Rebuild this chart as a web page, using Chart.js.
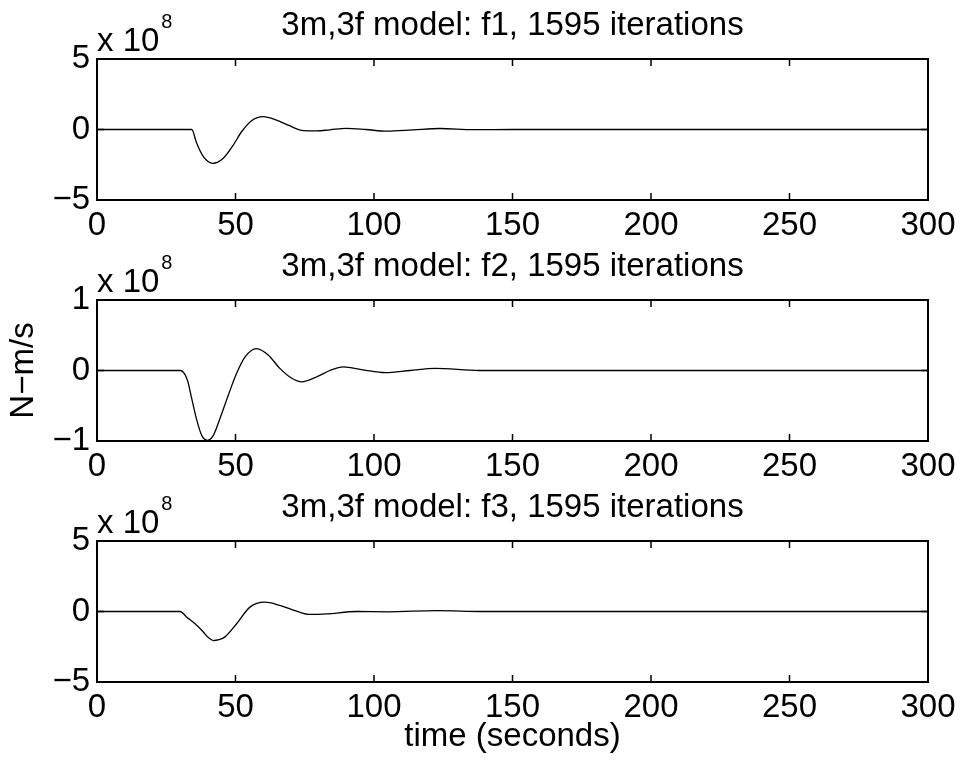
<!DOCTYPE html>
<html><head><meta charset="utf-8">
<script src="https://cdn.jsdelivr.net/npm/chart.js@4/dist/chart.umd.min.js"></script>
<style>
html,body{margin:0;padding:0;background:#fff;overflow:hidden;width:963px;height:763px;}
canvas{position:absolute;left:0;display:block;}
</style></head><body>
<canvas id="c1" width="1025" height="241" style="top:0px"></canvas>
<canvas id="c2" width="1025" height="241" style="top:241px"></canvas>
<canvas id="c3" width="1025" height="281" style="top:482px"></canvas>
<script>
// ---- data (values in units of 1e8 N-m/s) ----
const xTicks = [0, 50, 100, 150, 200, 250, 300];
const titles = ["3m,3f model: f1, 1595 iterations", "3m,3f model: f2, 1595 iterations", "3m,3f model: f3, 1595 iterations"];
const yLabel = "N\u2212m/s";
const xLabel = "time (seconds)";
const expBase = "x 10";
const expPow = "8";

const t1 = [0, 34.2, 36.0, 38.4, 41.8, 45.6, 49.2, 52.2, 55.8, 60.0, 64.8, 69.7, 74.5, 79.3, 84.1, 90.0, 97.0, 104.6, 114.0, 123.8, 135.8, 150.0, 300.0];
const f1 = [0, 0, -0.98, -1.93, -2.40, -2.04, -1.10, -0.16, 0.62, 0.91, 0.67, 0.25, -0.08, -0.10, -0.02, 0.08, 0.0, -0.12, -0.03, 0.07, -0.01, 0, 0];

const t2 = [0, 30.0, 32.6, 34.2, 36.0, 37.8, 39.9, 42.0, 44.4, 47.4, 50.4, 53.4, 57.6, 61.8, 66.0, 70.3, 73.9, 79.3, 84.1, 88.9, 96.0, 104.0, 113.0, 122.0, 138.0, 150.0, 300.0];
const f2 = [0, 0, -0.13, -0.40, -0.70, -0.92, -0.99, -0.92, -0.68, -0.35, -0.04, 0.19, 0.31, 0.22, 0.03, -0.11, -0.16, -0.09, 0.0, 0.05, 0.01, -0.03, 0.0, 0.03, 0.0, 0, 0];

const t3 = [0, 30.0, 32.4, 35.4, 38.4, 40.2, 42.0, 44.0, 46.2, 50.4, 55.2, 60.6, 66.0, 72.1, 76.9, 82.9, 93.7, 105.0, 122.6, 140.0, 300.0];
const f3 = [0, 0, -0.40, -0.87, -1.45, -1.85, -2.06, -2.0, -1.80, -0.87, 0.31, 0.66, 0.43, 0.02, -0.21, -0.17, 0.0, -0.02, 0.06, 0, 0];

const yTicks1 = [-5, 0, 5];
const yTicks2 = [-1, 0, 1];
const yTicks3 = [-5, 0, 5];

// ---- rendering ----
const FONT = "'Liberation Sans', Arial, Helvetica, sans-serif";
const FS = 33;
Chart.defaults.font.family = FONT;
Chart.defaults.font.size = FS;
Chart.defaults.color = '#000';

const framePlugin = {
  id: 'frame',
  afterDraw(chart) {
    const {ctx, chartArea: a, scales: {x, y}} = chart;
    ctx.save();
    ctx.strokeStyle = '#000';
    ctx.lineWidth = 1.5;
    const L = 7;
    ctx.beginPath();
    x.ticks.forEach(t => {
      const px = x.getPixelForValue(t.value);
      ctx.moveTo(px, a.bottom); ctx.lineTo(px, a.bottom - L);
      ctx.moveTo(px, a.top); ctx.lineTo(px, a.top + L);
    });
    y.ticks.forEach(t => {
      const py = y.getPixelForValue(t.value);
      ctx.moveTo(a.left, py); ctx.lineTo(a.left + L, py);
      ctx.moveTo(a.right, py); ctx.lineTo(a.right - L, py);
    });
    ctx.stroke();
    ctx.lineWidth = 2;
    ctx.strokeRect(a.left, a.top, a.right - a.left, a.bottom - a.top);
    ctx.fillStyle = '#000';
    ctx.textAlign = 'left';
    ctx.textBaseline = 'alphabetic';
    ctx.font = FS + "px " + FONT;
    ctx.fillText(expBase, a.left, a.top - 8);
    const w = ctx.measureText(expBase).width;
    ctx.font = "20px " + FONT;
    ctx.fillText(expPow, a.left + w + 2, a.top - 31);
    ctx.restore();
  }
};

function makeChart(id, t, f, yt, title, opts) {
  const canvas = document.getElementById(id);
  const H = canvas.height;
  return new Chart(canvas, {
    type: 'line',
    data: {
      datasets: [{
        data: t.map((v, i) => ({x: v, y: f[i]})),
        borderColor: '#000',
        borderWidth: 1.3,
        pointRadius: 0,
        fill: false,
        cubicInterpolationMode: 'monotone'
      }]
    },
    options: {
      responsive: false,
      animation: false,
      layout: {padding: 0},
      plugins: {
        legend: {display: false},
        tooltip: {enabled: false},
        title: {display: true, text: title, color: '#000', font: {size: FS, weight: 'normal'}, padding: {top: 6, bottom: 13.4}}
      },
      scales: {
        x: {
          type: 'linear', min: 0, max: 300,
          afterBuildTicks: s => { s.ticks = xTicks.map(v => ({value: v})); },
          grid: {display: false, drawTicks: false},
          border: {display: false},
          ticks: {color: '#000', padding: 6, maxRotation: 0, autoSkip: false},
          title: opts.xTitle ? {display: true, text: opts.xTitle, color: '#000', font: {size: FS}, padding: {top: 0, bottom: 6}} : {display: false},
          afterFit: s => { s.height = H - 200; }
        },
        y: {
          type: 'linear', position: 'left', min: yt[0], max: yt[yt.length - 1],
          afterBuildTicks: s => { s.ticks = yt.map(v => ({value: v})); },
          grid: {display: false, drawTicks: false},
          border: {display: false},
          ticks: {color: '#000', padding: 7, autoSkip: false, callback: v => String(v).replace('-', '\u2212')},
          title: opts.yTitle ? {display: true, text: opts.yTitle, color: '#000', font: {size: FS}, padding: {top: 4, bottom: 0}} : {display: false},
          afterFit: s => { s.width = 97; }
        },
        yr: {
          type: 'linear', position: 'right', display: true,
          grid: {display: false, drawTicks: false},
          border: {display: false},
          ticks: {display: false},
          afterFit: s => { s.width = 97; }
        }
      }
    },
    plugins: [framePlugin]
  });
}

makeChart('c1', t1, f1, yTicks1, titles[0], {});
makeChart('c2', t2, f2, yTicks2, titles[1], {yTitle: yLabel});
makeChart('c3', t3, f3, yTicks3, titles[2], {xTitle: xLabel});
</script>
</body></html>
